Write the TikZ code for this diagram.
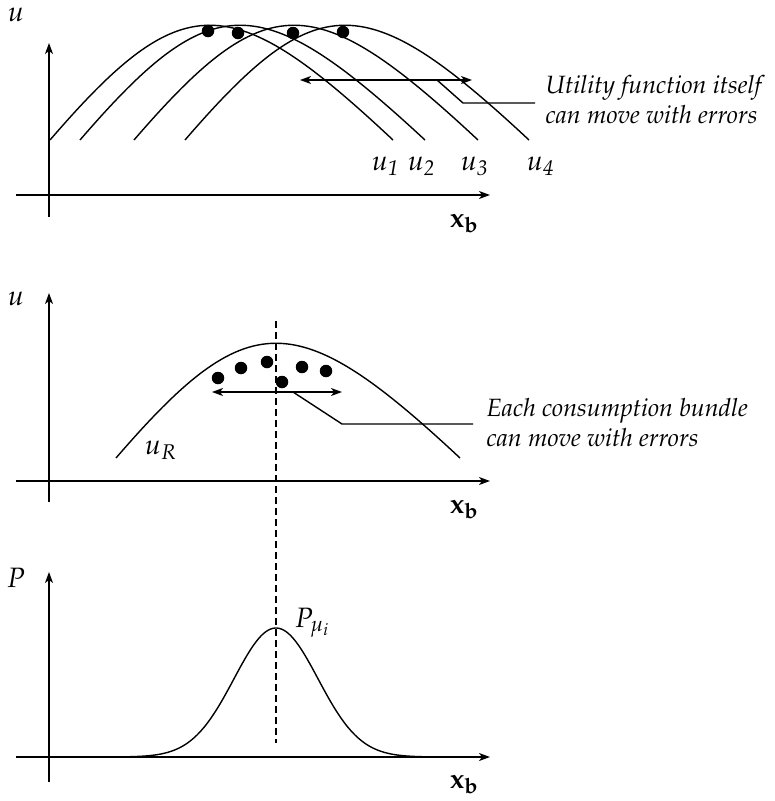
\documentclass[tikz,border=0pt]{standalone}
\usepackage[T1]{fontenc}
\usepackage{mathpazo}
\usetikzlibrary{arrows.meta}
\begin{document}
\begin{tikzpicture}[x=1pt,y=-1pt,line width=1.4pt,
  tip/.tip={Stealth[length=11pt,width=8pt,inset=3pt]},
  axis/.style={-tip},
  darrow/.style={tip-tip},
  dot/.style={circle,fill,inner sep=0pt,minimum size=12.5pt},
  lbl/.style={inner sep=0pt,anchor=base west,font=\fontsize{28}{32}\selectfont},
  txt/.style={inner sep=0pt,align=left,font=\fontsize{25}{30}\selectfont\itshape},
  curve/.style={line width=1.4pt},
  vdash/.style={dash pattern=on 7pt off 4pt}]
\useasboundingbox (0,0) rectangle (775,801);

% ---------- top panel ----------
\coordinate (ax1o) at (49,217);
\coordinate (ax1t) at (49,43);
\coordinate (ax1l) at (16,195);
\coordinate (ax1r) at (490,195);
\draw[axis] (ax1o) -- (ax1t);
\draw[axis] (ax1l) -- (ax1r);
\node[lbl] (yu1) at (7,21) {$u$};
\node[lbl] (xb1) at (449,227) {$\mathbf{x_b}$};

\draw[curve] (50,140) .. controls (182,-13) and (230,-13) .. (393,140);
\draw[curve] (80,140) .. controls (212,-13) and (260,-13) .. (425,140);
\draw[curve] (134,140) .. controls (266,-13) and (314,-13) .. (478,140);
\draw[curve] (185,140) .. controls (317,-13) and (365,-13) .. (529,140);

\node[dot] (t1) at (208,31) {};
\node[dot] (t2) at (238,33) {};
\node[dot] (t3) at (293,33) {};
\node[dot] (t4) at (343,32) {};

\node[lbl] (u1) at (371,170) {$u_{\mathit{1}}$};
\node[lbl] (u2) at (407,170) {$u_{\mathit{2}}$};
\node[lbl] (u3) at (460,170) {$u_{\mathit{3}}$};
\node[lbl] (u4) at (526,170) {$u_{\mathit{4}}$};

\coordinate (a1l) at (300,80);
\coordinate (a1r) at (472,80);
\draw[darrow] (a1l) -- (a1r);
\node[txt,anchor=west] (txt1) at (545,100) {Utility function itself\\can move with errors};
\coordinate (k1a) at (437,80);
\coordinate (k1b) at (463,103);
\draw (k1a) -- (k1b) -- ([xshift=-10pt]txt1.west |- k1b);

% ---------- middle panel ----------
\coordinate (ax2o) at (49,502);
\coordinate (ax2t) at (49,293);
\coordinate (ax2l) at (16,481);
\coordinate (ax2r) at (490,481);
\draw[axis] (ax2o) -- (ax2t);
\draw[axis] (ax2l) -- (ax2r);
\node[lbl] (yu2) at (7,305) {$u$};
\node[lbl] (xb2) at (449,513) {$\mathbf{x_b}$};

\draw[curve] (116,458) .. controls (248,305) and (296,305) .. (460,458);
\node[lbl] (uR) at (144,454) {$u_R$};

\node[dot] (m1) at (218,378) {};
\node[dot] (m2) at (241,368) {};
\node[dot] (m3) at (267,362) {};
\node[dot] (m4) at (282,382) {};
\node[dot] (m5) at (302,367) {};
\node[dot] (m6) at (326,371) {};

\coordinate (a2l) at (212,392);
\coordinate (a2r) at (342,392);
\draw[darrow] (a2l) -- (a2r);
\node[txt,anchor=west] (txt2) at (486,423) {Each consumption bundle\\can move with errors};
\coordinate (k2a) at (293,392);
\coordinate (k2b) at (342,424);
\draw (k2a) -- (k2b) -- ([xshift=-13pt]txt2.west |- k2b);

% ---------- dashed guide ----------
\coordinate (dtop) at (276,321);
\coordinate (dbot) at (276,743);
\draw[vdash] (dtop) -- (dbot);

% ---------- bottom panel ----------
\coordinate (ax3o) at (49,782);
\coordinate (ax3t) at (49,572);
\coordinate (ax3l) at (16,757);
\coordinate (ax3r) at (490,757);
\draw[axis] (ax3o) -- (ax3t);
\draw[axis] (ax3l) -- (ax3r);
\node[lbl] (yP) at (6,587) {$P$};
\node[lbl] (xb3) at (449,788) {$\mathbf{x_b}$};

\draw[curve] plot[domain=112:440,samples=140,smooth] (\x,{757-129*exp(-((\x-276)/42)^2/2)});
\node[lbl] (Pmu) at (294,627) {$P_{\mu_i}$};

\end{tikzpicture}
\end{document}
